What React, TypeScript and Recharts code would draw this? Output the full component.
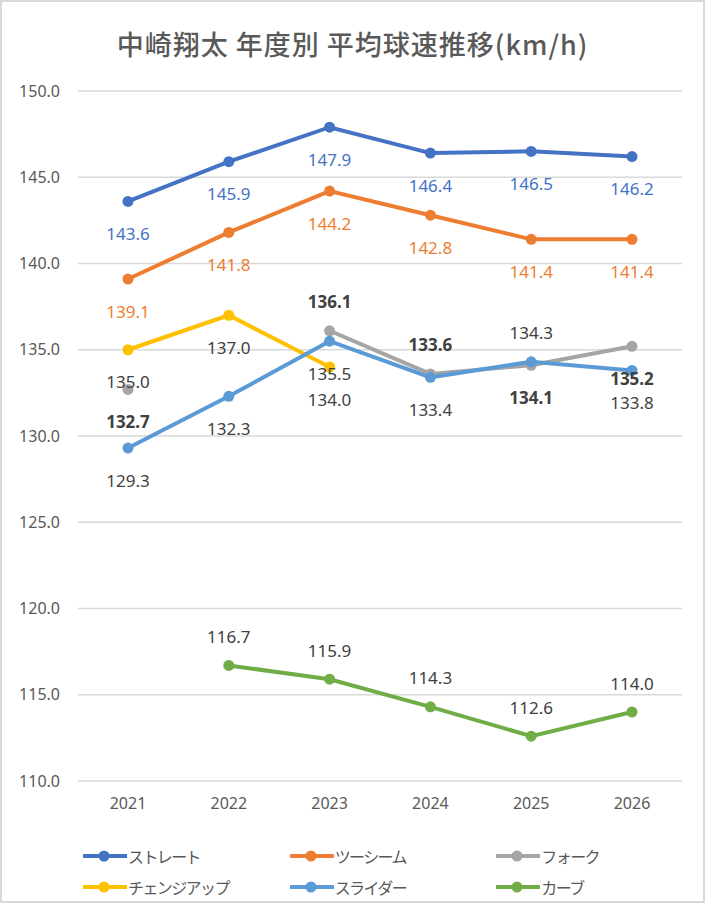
import React from "react"
import { LineChart, Line, XAxis, YAxis, CartesianGrid } from "recharts"

const years = ["2021", "2022", "2023", "2024", "2025", "2026"]
const straight = [143.6, 145.9, 147.9, 146.4, 146.5, 146.2]
const twoSeam = [139.1, 141.8, 144.2, 142.8, 141.4, 141.4]
const fork = [132.7, null, 136.1, 133.6, 134.1, 135.2]
const changeUp = [135.0, 137.0, 134.0, null, null, null]
const slider = [129.3, 132.3, 135.5, 133.4, 134.3, 133.8]
const curve = [null, 116.7, 115.9, 114.3, 112.6, 114.0]
const yTicks = [110, 115, 120, 125, 130, 135, 140, 145, 150]

// which labels sit above the point (the rest sit below)
const ABOVE: Record<string, boolean[]> = {
  straight: [false, false, false, false, false, false],
  twoSeam: [false, false, false, false, false, false],
  fork: [false, false, true, true, false, false],
  changeUp: [false, false, false, false, false, false],
  slider: [false, false, false, false, true, false],
  curve: [true, true, true, true, true, true],
}

const SERIES = [
  { key: "straight", name: "ストレート", values: straight, color: "#4472C4", text: "#4472C4", bold: false },
  { key: "twoSeam", name: "ツーシーム", values: twoSeam, color: "#ED7D31", text: "#ED7D31", bold: false },
  { key: "fork", name: "フォーク", values: fork, color: "#A5A5A5", text: "#404040", bold: true },
  { key: "changeUp", name: "チェンジアップ", values: changeUp, color: "#FFC000", text: "#404040", bold: false },
  { key: "slider", name: "スライダー", values: slider, color: "#5B9BD5", text: "#404040", bold: false },
  { key: "curve", name: "カーブ", values: curve, color: "#70AD47", text: "#404040", bold: false },
]

const data = years.map((year, i) => {
  const row: Record<string, string | number | null> = { year }
  SERIES.forEach((s) => (row[s.key] = s.values[i]))
  return row
})

const FONT = '"Noto Sans", "Noto Sans CJK JP", sans-serif'

function makeLabel(key: string, color: string, bold: boolean) {
  return (props: any) => {
    const { x, y, value, index } = props
    if (value == null || x == null || y == null) return null
    const dy = ABOVE[key][index] ? -29 : 32
    return (
      <text
        x={x}
        y={y + dy}
        textAnchor="middle"
        dominantBaseline="central"
        fontSize={17}
        fontFamily={FONT}
        fontWeight={bold ? 700 : 400}
        fill={color}
      >
        {Number(value).toFixed(1)}
      </text>
    )
  }
}

function LegendBox() {
  return (
    <div style={{ position: "absolute", left: 83, top: 840, width: 620, fontFamily: '"Noto Sans CJK JP", sans-serif' }}>
      {[0, 1].map((r) => (
        <div key={r} style={{ display: "flex", height: 31, alignItems: "center" }}>
          {SERIES.slice(r * 3, r * 3 + 3).map((s) => (
            <div key={s.key} style={{ width: 207, display: "flex", alignItems: "center" }}>
              <svg width={44} height={14}>
                <line x1={1} y1={7} x2={43} y2={7} stroke={s.color} strokeWidth={4} strokeLinecap="round" />
                <circle cx={21} cy={7} r={5.5} fill={s.color} />
              </svg>
              <span style={{ marginLeft: 1, fontSize: 16, letterSpacing: -1.6, color: "#595959" }}>{s.name}</span>
            </div>
          ))}
        </div>
      ))}
    </div>
  )
}

export default function App() {
  return (
    <div style={{ position: "absolute", left: 0, top: 0, width: 705, height: 903, background: "#fff", overflow: "hidden" }}>
      <div
        style={{
          position: "absolute",
          left: 0,
          top: 28,
          width: 705,
          textAlign: "center",
          fontSize: 27,
          lineHeight: "32px",
          fontWeight: 500,
          letterSpacing: 1,
          color: "#595959",
          fontFamily: '"Noto Sans CJK JP", sans-serif',
        }}
      >
        中崎翔太 年度別 平均球速推移(km/h)
      </div>

      <div style={{ position: "absolute", left: 0, top: 0 }}>
        <LineChart width={705} height={830} data={data} margin={{ top: 91, right: 23, bottom: 9, left: 0 }}>
          <CartesianGrid vertical={false} stroke="#D9D9D9" strokeWidth={1.5} />
          <XAxis
            dataKey="year"
            padding={{ left: 50, right: 50 }}
            axisLine={false}
            tickLine={false}
            tickSize={0}
            tickMargin={17}
            height={40}
            tick={{ fontSize: 16, fill: "#595959", fontFamily: FONT }}
          />
          <YAxis
            domain={[110, 150]}
            ticks={yTicks}
            interval={0}
            width={78}
            axisLine={false}
            tickLine={false}
            tickSize={0}
            tickMargin={18}
            tickFormatter={(v: number) => v.toFixed(1)}
            tick={{ fontSize: 16, fill: "#595959", fontFamily: FONT }}
          />
          {SERIES.map((s) => (
            <Line
              key={s.key}
              dataKey={s.key}
              name={s.name}
              stroke={s.color}
              strokeWidth={4}
              dot={{ r: 5.5, fill: s.color, stroke: s.color, strokeWidth: 0 }}
              activeDot={false}
              isAnimationActive={false}
              label={makeLabel(s.key, s.text, s.bold)}
            />
          ))}
        </LineChart>
      </div>

      <LegendBox />
      <div
        style={{
          position: "absolute",
          left: 0,
          top: 0,
          width: 705,
          height: 903,
          border: "2px solid #D9D9D9",
          boxSizing: "border-box",
          pointerEvents: "none",
        }}
      />
    </div>
  )
}
